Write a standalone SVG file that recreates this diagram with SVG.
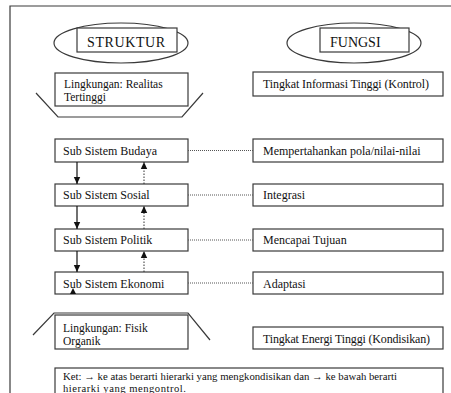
<svg xmlns="http://www.w3.org/2000/svg" width="451" height="393" viewBox="0 0 451 393">
<defs>
<style>
.b{fill:#fff;stroke:#3a3a3a;stroke-width:1.2}
.ln{fill:none;stroke:#3a3a3a;stroke-width:1.2}
.t{font-family:"Liberation Serif","Times New Roman",serif;font-size:12px;fill:#111}
.t2{font-family:"Liberation Serif","Times New Roman",serif;font-size:11.5px;fill:#111}
.k{font-family:"Liberation Serif","Times New Roman",serif;font-size:10.6px;fill:#111}
.h{font-family:"Liberation Serif","Times New Roman",serif;font-size:14px;fill:#111}
.dot{stroke:#555;stroke-width:1;stroke-dasharray:1 1;fill:none}
.dn{stroke:#111;stroke-width:1.2;fill:none}
.up{stroke:#333;stroke-width:1;stroke-dasharray:1.5 1.5;fill:none}
</style>
<marker id="ah" markerWidth="8" markerHeight="8" refX="7" refY="4" orient="auto" markerUnits="userSpaceOnUse">
<path d="M0,0.8 L7,4 L0,7.2 Z" fill="#111"/>
</marker>
</defs>
<rect width="451" height="393" fill="#fff"/>
<g id="frame" class="ln">
<path d="M10,393 V6 H451"/>
</g>
<g id="struktur">
<ellipse cx="121" cy="43" rx="67" ry="20" class="b"/>
<rect x="77" y="28" width="100" height="24" class="b"/>
<text x="87" y="47" class="h" letter-spacing="0.6">STRUKTUR</text>
</g>
<g id="fungsi">
<ellipse cx="354" cy="43" rx="67" ry="20" class="b"/>
<rect x="320" y="28" width="89" height="24" class="b"/>
<text x="330" y="47" class="h">FUNGSI</text>
</g>
<g id="realitas">
<path d="M36,93 L58,117 H182 L203,93" class="ln"/>
<rect x="55" y="73" width="133" height="33" class="b"/>
<text x="64" y="87.5" class="t2">Lingkungan: Realitas<tspan x="64" dy="13">Tertinggi</tspan></text>
</g>
<g id="informasi">
<rect x="253" y="72" width="190" height="24" class="b"/>
<text x="263" y="88" class="t" textLength="166">Tingkat Informasi Tinggi (Kontrol)</text>
</g>
<g id="budaya">
<rect x="55" y="139" width="133" height="23" class="b"/>
<text x="63" y="155" class="t">Sub Sistem Budaya</text>
</g>
<g id="sosial">
<rect x="55" y="184" width="133" height="22" class="b"/>
<text x="63" y="199" class="t">Sub Sistem Sosial</text>
</g>
<g id="politik">
<rect x="55" y="229" width="133" height="22" class="b"/>
<text x="63" y="244" class="t">Sub Sistem Politik</text>
</g>
<g id="ekonomi">
<rect x="55" y="272" width="133" height="22" class="b"/>
<text x="63" y="288" class="t">Sub Sistem Ekonomi</text>
<polygon points="70,294 73,288 76,294" fill="#111"/>
</g>
<g id="pola">
<rect x="253" y="139" width="190" height="23" class="b"/>
<text x="263" y="155" class="t">Mempertahankan pola/nilai-nilai</text>
</g>
<g id="integrasi">
<rect x="253" y="184" width="190" height="22" class="b"/>
<text x="263" y="199" class="t">Integrasi</text>
</g>
<g id="tujuan">
<rect x="253" y="229" width="190" height="22" class="b"/>
<text x="263" y="244" class="t">Mencapai Tujuan</text>
</g>
<g id="adaptasi">
<rect x="253" y="272" width="190" height="22" class="b"/>
<text x="263" y="288" class="t">Adaptasi</text>
</g>
<g id="fisik">
<path d="M33,335 L54,313 H188 L210,340" class="ln"/>
<rect x="55" y="315" width="133" height="34" class="b"/>
<text x="63" y="331.5" class="t2">Lingkungan: Fisik<tspan x="63" dy="13">Organik</tspan></text>
</g>
<g id="energi">
<rect x="253" y="327" width="190" height="22" class="b"/>
<text x="263" y="343" class="t" textLength="167">Tingkat Energi Tinggi (Kondisikan)</text>
</g>
<g id="ket">
<rect x="55" y="368" width="388" height="40" class="b"/>
<text x="63" y="379.5" class="k"><tspan textLength="334" lengthAdjust="spacingAndGlyphs">Ket: → ke atas berarti hierarki yang mengkondisikan dan → ke bawah berarti</tspan><tspan x="63" dy="12" textLength="123">hierarki yang mengontrol.</tspan></text>
</g>
<g id="connectors">
<path d="M188,150.5 H253" class="dot"/>
<path d="M188,195 H253" class="dot"/>
<path d="M188,240 H253" class="dot"/>
<path d="M188,283 H253" class="dot"/>
<path d="M77,162 V184" class="dn" marker-end="url(#ah)"/>
<path d="M77,206 V229" class="dn" marker-end="url(#ah)"/>
<path d="M77,251 V272" class="dn" marker-end="url(#ah)"/>
<path d="M144,184 V162" class="up" marker-end="url(#ah)"/>
<path d="M144,229 V206" class="up" marker-end="url(#ah)"/>
<path d="M144,272 V251" class="up" marker-end="url(#ah)"/>
</g>
</svg>
